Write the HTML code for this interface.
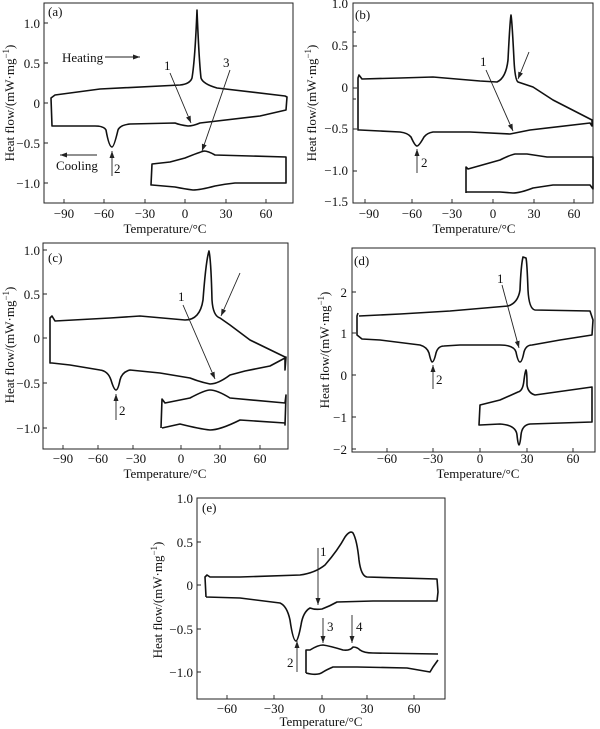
<!DOCTYPE html>
<html><head><meta charset="utf-8"><style>
html,body{margin:0;padding:0;background:#fff}
svg{display:block}
text{font-family:"Liberation Serif",serif;font-size:13px;fill:#111}
.c{fill:none;stroke:#111;stroke-width:1.6;stroke-linejoin:round}
.f{fill:none;stroke:#222;stroke-width:1}
.a{stroke:#222;stroke-width:0.9;fill:none}
</style></head><body>
<svg width="600" height="729" viewBox="0 0 600 729" xmlns="http://www.w3.org/2000/svg">
<defs><marker id="m" markerWidth="8" markerHeight="8" refX="7" refY="4" orient="auto" markerUnits="userSpaceOnUse"><path d="M0,1.5 L7,4 L0,6.5 Z" fill="#222"/></marker></defs>

<!-- Panel a -->
<rect class="f" x="44" y="3" width="249" height="200"/>
<g class="a">
<path d="M44,23h4M44,63h4M44,103h4M44,143h4M44,183h4"/>
<path d="M64,203v-4M104,203v-4M145,203v-4M185,203v-4M226,203v-4M266,203v-4"/>
</g>
<g text-anchor="end"><text x="40" y="28">1.0</text><text x="40" y="68">0.5</text><text x="40" y="108">0</text><text x="40" y="148">−0.5</text><text x="40" y="188">−1.0</text></g>
<g text-anchor="middle"><text x="64" y="218">−90</text><text x="104" y="218">−60</text><text x="145" y="218">−30</text><text x="185" y="218">0</text><text x="226" y="218">30</text><text x="266" y="218">60</text>
<text x="165" y="233">Temperature/°C</text></g>
<text transform="translate(14,103) rotate(-90)" text-anchor="middle">Heat flow/(mW·mg<tspan dy="-5" font-size="9">−1</tspan><tspan dy="5">)</tspan></text>
<text x="48" y="16">(a)</text>
<path class="c" d="M52,126 L51,98 L55,95 L100,89 L180,85 Q190,84 192,78 Q195,60 197,10 Q199,60 201,78 Q203,84 217,88 L285,96 L287,97 L286,110 L260,116 L200,123 Q193,126 188,126 Q180,125 175,123 L130,124 Q120,125 118,130 Q114,147 112,147 Q109,147 106,130 Q104,126 95,126 Z"/>
<path class="c" d="M152,164 L170,162 L185,158 Q200,152 204,151 Q208,151 215,155 L286,157 L286,183 L235,183 Q225,184 215,186 Q200,190 193,190 Q185,189 175,187 L152,185 L151,185 Z"/>
<text x="62" y="62">Heating</text>
<path class="a" d="M105,57 L140,57" marker-end="url(#m)"/>
<text x="164" y="70">1</text><path class="a" d="M170,73 L191,123" marker-end="url(#m)"/>
<text x="223" y="67">3</text><path class="a" d="M230,70 L202,151" marker-end="url(#m)"/>
<text x="56" y="170">Cooling</text>
<path class="a" d="M97,155 L60,155" marker-end="url(#m)"/>
<text x="114" y="173">2</text><path class="a" d="M112,176 L112,151" marker-end="url(#m)"/>

<!-- Panel b -->
<rect class="f" x="353" y="3" width="240" height="200"/>
<g class="a">
<path d="M353,46h4M353,88h4M353,129h4M353,171h4M353,99h3M353,32h3"/>
<path d="M365,203v-4M412,203v-4M452,203v-4M493,203v-4M534,203v-4M574,203v-4"/>
</g>
<g text-anchor="end"><text x="348" y="8">1.0</text><text x="348" y="50">0.5</text><text x="348" y="92">0</text><text x="348" y="133">−0.5</text><text x="348" y="175">−1.0</text><text x="348" y="206">−1.5</text></g>
<g text-anchor="middle"><text x="369" y="218">−90</text><text x="412" y="218">−60</text><text x="452" y="218">−30</text><text x="493" y="218">0</text><text x="534" y="218">30</text><text x="574" y="218">60</text>
<text x="474" y="233">Temperature/°C</text></g>
<text transform="translate(316,103) rotate(-90)" text-anchor="middle">Heat flow/(mW·mg<tspan dy="-5" font-size="9">−1</tspan><tspan dy="5">)</tspan></text>
<text x="355" y="19">(b)</text>
<path class="c" d="M358,130 L358,78 L359,75 L362,79 L400,78 L433,77 L480,81 L497,82 Q506,78 508,60 Q510,20 511,15 Q512,20 514,60 Q515,80 518,82 L533,87 L553,100 L592,120 L592,126 L590,123 L530,130 Q520,132 510,134 L470,132 L433,132 Q427,133 424,137 Q419,146 417,146 Q415,146 411,137 Q408,133 400,132 L380,131 L360,130 Z"/>
<path class="c" d="M466,193 L466,167 L468,169 L500,160 Q510,155 515,154 L527,154 L547,157 L593,157 L593,189 L590,185 L553,185 L533,188 Q520,193 513,193 L500,192 L466,192"/>
<text x="480" y="66">1</text><path class="a" d="M486,70 L513,131" marker-end="url(#m)"/>
<path class="a" d="M529,52 L518,79" marker-end="url(#m)"/>
<text x="421" y="167">2</text><path class="a" d="M417,173 L417,149" marker-end="url(#m)"/>

<!-- Panel c -->
<rect class="f" x="43" y="243" width="245" height="206"/>
<g class="a">
<path d="M43,250h4M43,294h4M43,338h4M43,383h4M43,428h4"/>
<path d="M63,449v-4M98,449v-4M133,449v-4M181,449v-4M220,449v-4M260,449v-4"/>
</g>
<g text-anchor="end"><text x="40" y="255">1.0</text><text x="40" y="299">0.5</text><text x="40" y="343">0</text><text x="40" y="388">−0.5</text><text x="40" y="433">−1.0</text></g>
<g text-anchor="middle"><text x="63" y="463">−90</text><text x="98" y="463">−60</text><text x="136" y="463">−30</text><text x="181" y="463">0</text><text x="220" y="463">30</text><text x="260" y="463">60</text>
<text x="165" y="478">Temperature/°C</text></g>
<text transform="translate(14,345) rotate(-90)" text-anchor="middle">Heat flow/(mW·mg<tspan dy="-5" font-size="9">−1</tspan><tspan dy="5">)</tspan></text>
<text x="48" y="262">(c)</text>
<path class="c" d="M50,363 L50,318 L52,316 L55,321 L110,318 L140,316 L185,320 Q200,320 203,300 Q206,260 209,251 Q211,260 212,300 Q213,316 220,318 L230,325 L250,340 L285,357 L286,357 L285,370 L285,358 L270,366 L245,371 L230,375 Q218,384 210,384 Q200,382 190,378 L160,373 L130,370 Q122,372 120,380 Q118,390 116,390 Q114,390 111,380 Q108,371 100,370 L70,365 L52,363 Z"/>
<path class="c" d="M161,428 L162,399 L165,403 L190,398 Q205,390 210,390 Q217,390 230,398 L285,403 L286,395 L285,425 L285,423 L240,420 Q220,430 210,430 Q200,429 180,424 L162,428"/>
<text x="178" y="301">1</text><path class="a" d="M183,305 L215,379" marker-end="url(#m)"/>
<path class="a" d="M240,273 L221,316" marker-end="url(#m)"/>
<text x="119" y="415">2</text><path class="a" d="M116,420 L116,394" marker-end="url(#m)"/>

<!-- Panel d -->
<rect class="f" x="352" y="248" width="243" height="204"/>
<g class="a">
<path d="M352,292h4M352,333h4M352,375h4M352,417h4M352,449h4"/>
<path d="M387,452v-4M433,452v-4M480,452v-4M527,452v-4M573,452v-4"/>
</g>
<g text-anchor="end"><text x="347" y="297">2</text><text x="347" y="338">1</text><text x="347" y="380">0</text><text x="347" y="422">−1</text><text x="347" y="454">−2</text></g>
<g text-anchor="middle"><text x="387" y="463">−60</text><text x="433" y="463">−30</text><text x="480" y="463">0</text><text x="527" y="463">30</text><text x="573" y="463">60</text>
<text x="478" y="478">Temperature/°C</text></g>
<text transform="translate(329,350) rotate(-90)" text-anchor="middle">Heat flow/(mW·mg<tspan dy="-5" font-size="9">−1</tspan><tspan dy="5">)</tspan></text>
<text x="354" y="265">(d)</text>
<path class="c" d="M358,313 L357,316 L357,335 L362,339 L380,340 L420,345 Q427,347 429,353 Q431,362 432,362 Q434,362 436,353 Q438,346 444,346 L460,345 L500,345 Q514,345 516,352 Q518,362 520,362 Q522,362 524,352 Q526,345 532,345 L560,340 L592,335 L593,320 L590,311 L535,310 Q529,309 528,290 Q527,262 526,258 L523,257 Q521,265 520,290 Q518,303 508,306 L450,311 L400,314 L359,316"/>
<path class="c" d="M480,405 L500,400 L518,392 Q523,391 524,380 Q525,372 526,370 Q527,372 527,385 Q528,393 535,395 L592,387 L592,422 L530,424 Q522,425 521,435 Q520,445 519,445 Q518,445 517,435 Q516,425 500,424 L480,425 L479,425 Z"/>
<text x="497" y="283">1</text><path class="a" d="M502,285 L519,348" marker-end="url(#m)"/>
<text x="436" y="384">2</text><path class="a" d="M433,389 L433,365" marker-end="url(#m)"/>

<!-- Panel e -->
<rect class="f" x="197" y="498" width="248" height="201"/>
<g class="a">
<path d="M197,542h4M197,585h4M197,629h4M197,672h4"/>
<path d="M227,699v-4M274,699v-4M322,699v-4M367,699v-4M414,699v-4"/>
</g>
<g text-anchor="end"><text x="193" y="503">1.0</text><text x="193" y="547">0.5</text><text x="193" y="590">0</text><text x="193" y="634">−0.5</text><text x="193" y="677">−1.0</text></g>
<g text-anchor="middle"><text x="227" y="713">−60</text><text x="274" y="713">−30</text><text x="322" y="713">0</text><text x="367" y="713">30</text><text x="414" y="713">60</text>
<text x="321" y="726">Temperature/°C</text></g>
<text transform="translate(162,600) rotate(-90)" text-anchor="middle">Heat flow/(mW·mg<tspan dy="-5" font-size="9">−1</tspan><tspan dy="5">)</tspan></text>
<text x="202" y="512">(e)</text>
<path class="c" d="M206,597 L205,577 L207,575 L210,577 L240,577 L300,575 Q315,573 325,565 Q338,550 345,537 Q350,530 353,533 Q357,540 359,560 Q361,576 367,577 L437,579 L438,592 L437,601 L433,601 L373,601 L337,602 Q330,606 322,609 Q315,610 310,608 Q303,612 301,625 Q298,641 296,641 Q293,641 290,620 Q287,606 280,603 L240,598 L206,597"/>
<path class="c" d="M306,673 L306,650 L310,650 Q318,645 323,645 Q330,646 343,650 Q350,651 353,647 Q357,647 360,650 Q364,653 373,653 L438,654 M438,660 L433,667 L430,672 L407,668 L357,667 L333,667 Q326,670 323,672 Q318,676 306,673"/>
<text x="320" y="556">1</text><path class="a" d="M318,548 L318,605" marker-end="url(#m)"/>
<text x="287" y="667">2</text><path class="a" d="M297,672 L297,641" marker-end="url(#m)"/>
<text x="327" y="631">3</text><path class="a" d="M323,618 L323,643" marker-end="url(#m)"/>
<text x="356" y="631">4</text><path class="a" d="M352,615 L352,643" marker-end="url(#m)"/>
</svg>
</body></html>
